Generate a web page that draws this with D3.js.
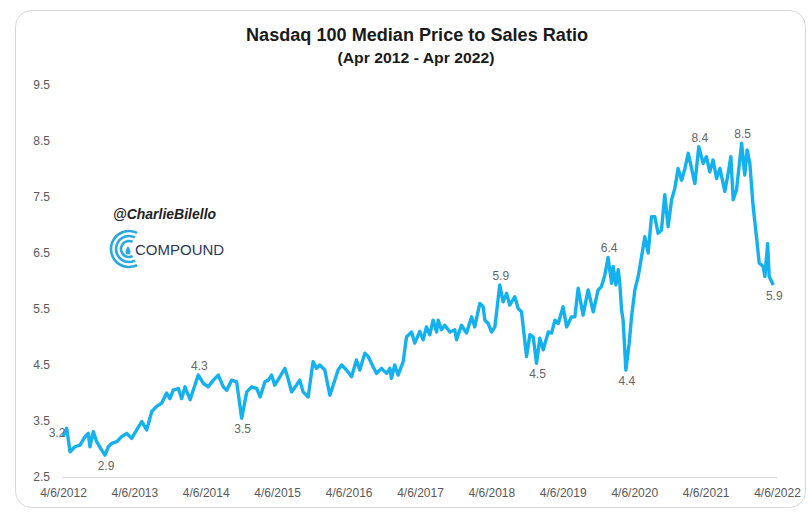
<!DOCTYPE html>
<html>
<head>
<meta charset="utf-8">
<script src="https://cdn.jsdelivr.net/npm/d3@7"></script>
<style>
  body { margin: 0; background: #fff; }
  svg { display: block; font-family: "Liberation Sans", Arial, sans-serif; }
  .axis text { fill: #595959; font-size: 12px; }
  .axis .domain { stroke: #d9d9d9; }
  .point-label { fill: #666; font-size: 12px; text-anchor: middle; }
</style>
</head>
<body>
<svg id="chart" width="808" height="512"></svg>
<script>
// weekly-ish readings of the median P/S ratio
const dates = [
  "2012-04-06","2012-04-25","2012-05-12","2012-06-06","2012-07-02","2012-07-28","2012-08-13","2012-08-22",
  "2012-09-08","2012-09-25","2012-10-21","2012-11-07","2012-11-24","2012-12-11","2013-01-06","2013-01-31",
  "2013-02-26","2013-03-23","2013-04-18","2013-05-14","2013-06-08","2013-07-04","2013-07-29","2013-08-24",
  "2013-09-18","2013-10-05","2013-10-22","2013-11-17","2013-12-04","2013-12-21","2014-01-16","2014-02-01",
  "2014-02-27","2014-03-25","2014-04-19","2014-05-15","2014-06-09","2014-07-05","2014-07-22","2014-08-17",
  "2014-09-11","2014-10-07","2014-11-02","2014-11-27","2014-12-23","2015-01-09","2015-02-03","2015-02-20",
  "2015-03-09","2015-03-25","2015-04-20","2015-05-16","2015-06-01","2015-06-19","2015-07-14","2015-07-31",
  "2015-08-17","2015-09-12","2015-10-07","2015-10-25","2015-11-11","2015-12-06","2016-01-01","2016-01-18",
  "2016-02-12","2016-03-01","2016-03-26","2016-04-21","2016-05-16","2016-06-02","2016-06-28","2016-07-15",
  "2016-08-09","2016-08-27","2016-09-21","2016-10-17","2016-11-03","2016-11-11","2016-11-28","2016-12-15",
  "2017-01-10","2017-01-27","2017-02-22","2017-03-10","2017-04-05","2017-04-22","2017-05-09","2017-05-26",
  "2017-06-12","2017-06-30","2017-07-08","2017-07-25","2017-08-11","2017-09-06","2017-10-01","2017-10-10",
  "2017-11-04","2017-11-30","2017-12-26","2018-01-11","2018-02-06","2018-02-23","2018-03-04","2018-03-21",
  "2018-04-07","2018-04-24","2018-05-19","2018-06-05","2018-06-23","2018-07-09","2018-08-04","2018-08-21",
  "2018-09-07","2018-09-16","2018-10-03","2018-10-20","2018-11-06","2018-11-23","2018-12-10","2018-12-27",
  "2019-01-22","2019-02-08","2019-02-25","2019-03-14","2019-04-08","2019-04-26","2019-05-21","2019-06-07",
  "2019-06-24","2019-07-19","2019-08-14","2019-09-09","2019-10-04","2019-10-21","2019-11-07","2019-11-24",
  "2019-12-12","2019-12-20","2020-01-03","2020-01-15","2020-01-23","2020-02-01","2020-02-09","2020-02-23",
  "2020-03-11","2020-03-23","2020-04-09","2020-04-26","2020-05-13","2020-05-30","2020-06-16","2020-07-03",
  "2020-07-20","2020-08-06","2020-08-23","2020-09-09","2020-09-26","2020-10-14","2020-10-30","2020-11-16",
  "2020-12-04","2020-12-21","2021-01-07","2021-01-24","2021-02-10","2021-03-02","2021-03-24","2021-04-10",
  "2021-04-27","2021-05-14","2021-06-01","2021-06-18","2021-07-13","2021-07-30","2021-08-13","2021-08-25",
  "2021-09-11","2021-10-07","2021-10-23","2021-11-04","2021-11-18","2021-12-05","2021-12-22","2022-01-05",
  "2022-01-25","2022-02-03","2022-02-17","2022-02-25","2022-03-18"
];
const ratios = [
  3.22,3.37,2.95,3.04,3.07,3.22,3.28,3.04,
  3.31,3.13,2.98,2.89,3.04,3.10,3.13,3.22,
  3.28,3.19,3.34,3.49,3.34,3.67,3.76,3.82,
  4.00,3.90,4.05,4.08,3.90,4.11,3.88,4.05,
  4.32,4.17,4.11,4.23,4.32,4.11,4.05,4.23,
  4.20,3.55,4.02,4.11,4.08,3.93,4.20,4.23,
  4.32,4.14,4.29,4.44,4.26,4.02,4.14,4.23,
  4.02,3.93,4.56,4.44,4.50,4.41,3.96,4.14,
  4.41,4.50,4.41,4.29,4.59,4.41,4.71,4.65,
  4.47,4.35,4.44,4.35,4.44,4.26,4.50,4.32,
  4.56,5.00,5.09,4.89,5.10,4.95,5.18,5.04,
  5.30,5.09,5.30,5.13,5.21,5.09,5.13,4.95,
  5.21,5.07,5.36,5.18,5.60,5.54,5.30,5.24,
  5.09,5.18,5.93,5.63,5.78,5.57,5.72,5.51,
  5.45,5.18,4.65,5.04,5.00,4.53,4.98,4.77,
  5.09,5.07,5.30,5.24,5.54,5.18,5.36,5.36,
  5.87,5.39,5.84,5.45,5.84,5.90,6.10,6.42,
  5.96,6.26,5.93,6.20,5.96,5.48,5.30,4.41,
  4.89,5.36,5.84,6.08,6.43,6.79,6.50,7.15,
  7.15,6.85,6.91,7.54,6.97,7.45,7.65,8.01,
  7.80,8.01,8.28,8.01,7.74,8.40,8.10,8.22,
  7.95,8.16,7.83,8.01,7.60,7.92,8.22,7.45,
  7.63,8.46,7.89,8.34,8.10,7.33,6.79,6.32,
  6.26,6.08,6.67,6.08,5.93
];
const yTicks = [2.5, 3.5, 4.5, 5.5, 6.5, 7.5, 8.5, 9.5];
const xTicks = ["2012-04-06","2013-04-06","2014-04-06","2015-04-06","2016-04-06","2017-04-06",
                "2018-04-06","2019-04-06","2020-04-06","2021-04-06","2022-04-06"];
// annotated highs and lows: date, value, label, side
const callouts = [
  ["2012-04-06", 3.22, "3.2", "left"],
  ["2012-11-07", 2.89, "2.9", "below"],
  ["2014-02-27", 4.32, "4.3", "above"],
  ["2014-10-07", 3.55, "3.5", "below"],
  ["2018-05-19", 5.93, "5.9", "above"],
  ["2018-11-23", 4.53, "4.5", "below"],
  ["2019-11-24", 6.42, "6.4", "above"],
  ["2020-02-23", 4.41, "4.4", "below"],
  ["2021-03-02", 8.40, "8.4", "above"],
  ["2021-10-07", 8.46, "8.5", "above"],
  ["2022-03-18", 5.93, "5.9", "below"]
];

const parse = d3.utcParse("%Y-%m-%d");
const series = dates.map((d, i) => ({ date: parse(d), value: ratios[i] }));

const svg = d3.select("#chart");

svg.append("rect")
  .attr("x", 15.5).attr("y", 10.5)
  .attr("width", 790).attr("height", 497)
  .attr("rx", 16)
  .attr("fill", "#fff")
  .attr("stroke", "#d6d9dc");

const x = d3.scaleUtc()
  .domain([parse(xTicks[0]), parse(xTicks[xTicks.length - 1])])
  .range([63, 777]);
const y = d3.scaleLinear().domain([2.5, 9.5]).range([477, 85]);

svg.append("text")
  .attr("x", 417).attr("y", 41)
  .attr("text-anchor", "middle")
  .attr("font-size", 18).attr("font-weight", "bold").attr("fill", "#1a1a1a")
  .attr("textLength", 342).attr("lengthAdjust", "spacingAndGlyphs")
  .text("Nasdaq 100 Median Price to Sales Ratio");
svg.append("text")
  .attr("x", 416).attr("y", 63)
  .attr("text-anchor", "middle")
  .attr("font-size", 14.5).attr("font-weight", "bold").attr("fill", "#1a1a1a")
  .attr("textLength", 157).attr("lengthAdjust", "spacingAndGlyphs")
  .text("(Apr 2012 - Apr 2022)");

svg.append("g")
  .attr("class", "axis")
  .attr("transform", "translate(50,0)")
  .call(d3.axisLeft(y).tickValues(yTicks).tickFormat(d3.format(".1f")).tickSize(0).tickPadding(0))
  .call((g) => g.select(".domain").remove());

svg.append("g")
  .attr("class", "axis")
  .attr("transform", "translate(0,477)")
  .call(d3.axisBottom(x).tickValues(xTicks.map(parse)).tickFormat(d3.utcFormat("%-m/%-d/%Y")).tickSize(0).tickPadding(11))
  .call((g) => g.select(".domain").attr("d", "M62,0.5H777"));

// watermark
const mark = svg.append("g");
mark.append("text")
  .attr("x", 113).attr("y", 219)
  .attr("font-size", 14).attr("font-weight", "bold").attr("font-style", "italic")
  .attr("fill", "#222")
  .text("@CharlieBilello");
const ring = d3.arc().startAngle(0.85 * Math.PI).endAngle(2.15 * Math.PI);
[18, 13, 8].forEach((r) => {
  mark.append("path")
    .attr("transform", "translate(129,249)")
    .attr("d", ring.innerRadius(r - 1.3).outerRadius(r + 1.3)())
    .attr("fill", "#2aa9e0");
});
mark.append("path")
  .attr("transform", "translate(128,250)")
  .attr("d", "M0,-4 C2,-1 2.5,1 2.5,2 A2.5,2.5 0 0 1 -2.5,2 C-2.5,1 -2,-1 0,-4Z")
  .attr("fill", "#2aa9e0");
mark.append("text")
  .attr("x", 135).attr("y", 255)
  .attr("font-size", 15).attr("fill", "#2e3856")
  .text("COMPOUND");

const line = d3.line()
  .x((d) => x(d.date))
  .y((d) => y(d.value));

svg.append("path")
  .datum(series)
  .attr("fill", "none")
  .attr("stroke", "#14b1ee")
  .attr("stroke-width", 3.4)
  .attr("stroke-linejoin", "round")
  .attr("d", line);

svg.selectAll(".point-label")
  .data(callouts)
  .join("text")
  .attr("class", "point-label")
  .attr("x", (d) => x(parse(d[0])) + (d[3] === "left" ? -6 : 1))
  .attr("y", (d) => y(d[1]) + (d[3] === "above" ? -5 : d[3] === "below" ? 15 : 0))
  .attr("text-anchor", (d) => (d[3] === "left" ? "end" : "middle"))
  .text((d) => d[2]);
</script>
</body>
</html>
